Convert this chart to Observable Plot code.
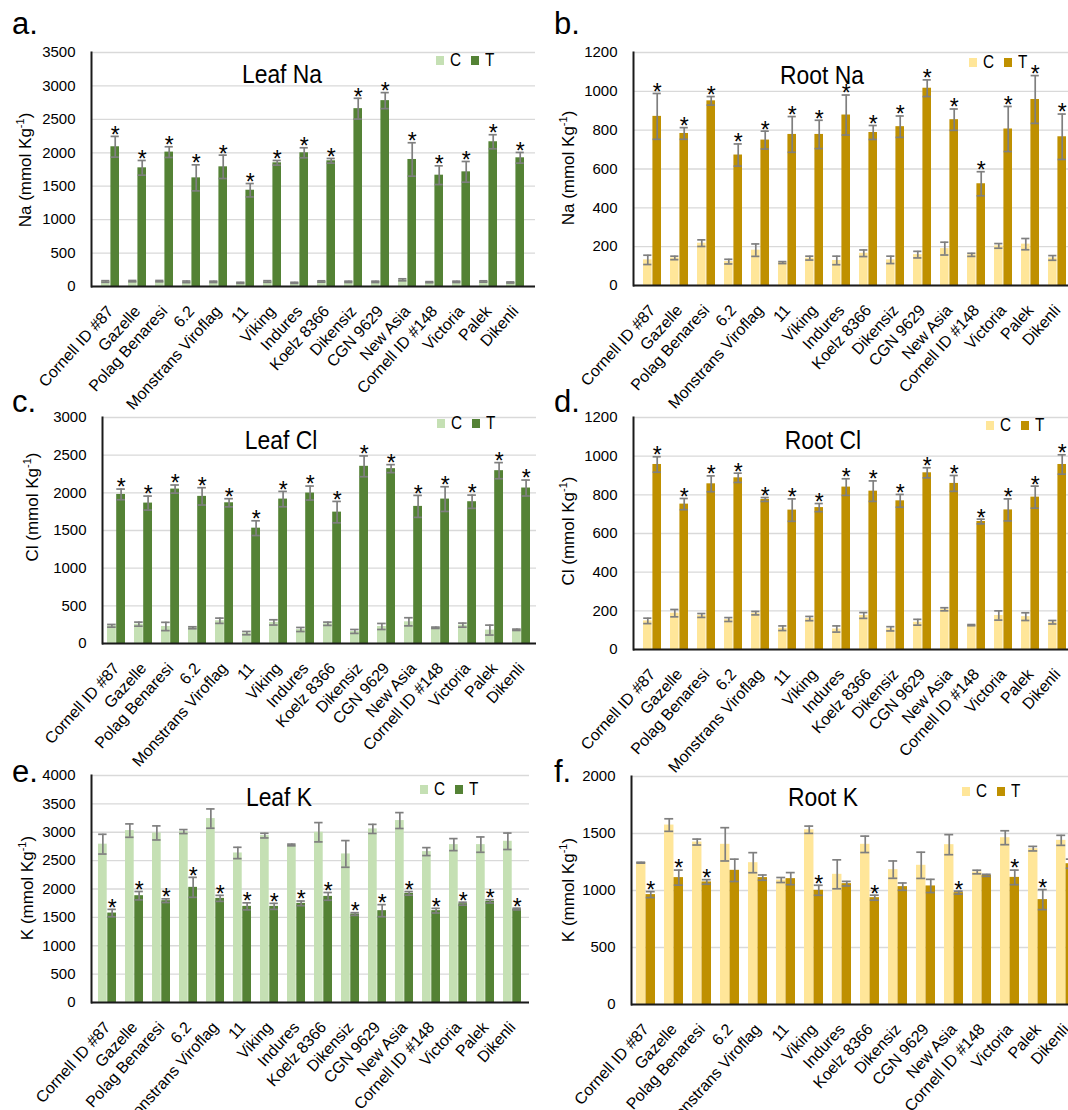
<!DOCTYPE html>
<html><head><meta charset="utf-8">
<script src="https://cdn.jsdelivr.net/npm/d3@7"></script>
<script src="https://cdn.jsdelivr.net/npm/@observablehq/plot@0.6"></script>
<style>
html,body{margin:0;padding:0;background:#fff;}
body{overflow:hidden;width:1068px;height:1110px;position:relative;font-family:"Liberation Sans",Arial,sans-serif;color:#000;}
.abs{position:absolute;white-space:nowrap;}
.holder{position:absolute;}
.holder svg{max-width:none !important;}
.letter{font-size:31px;line-height:32px;}
.title{font-size:26px;line-height:26px;transform:translate(-50%,-50%) scaleX(0.88);}
.ylab{font-size:17px;line-height:17px;transform:translate(-50%,-50%) rotate(-90deg);}
.ylab sup{font-size:11px;line-height:0;}
.legend{font-size:18px;line-height:18px;display:flex;align-items:center;transform:translateY(-50%);}
.legend .lt{display:inline-block;transform:scaleX(0.85);transform-origin:left center;}
.sw{display:inline-block;width:8px;height:9px;margin-right:6px;}
</style>
</head><body>
<script>
// ---------- DATA ----------
const genotypes = ["Cornell ID #87","Gazelle","Polag Benaresi","6.2","Monstrans Viroflag","11","Viking","Indures","Koelz 8366","Dikensiz","CGN 9629","New Asia","Cornell ID #148","Victoria","Palek","Dikenli"];
const treatments = ["C","T"];

const leafNaC    = [75,80,80,70,70,55,75,55,75,70,70,100,65,70,75,60];
const leafNaCErr = [12,10,10,12,10,8,12,8,10,10,10,15,8,10,10,8];
const leafNaT    = [2090,1775,2010,1625,1790,1440,1850,2000,1880,2660,2780,1900,1665,1715,2165,1925];
const leafNaTErr = [155,110,80,195,175,100,35,75,35,155,120,250,140,155,105,80];
const leafNaSig  = [1,1,1,1,1,1,1,1,1,1,1,1,1,1,1,1];
const leafNaTicks = [0,500,1000,1500,2000,2500,3000,3500];

const rootNaC    = [132,142,218,123,182,118,141,129,166,132,159,190,158,204,213,142];
const rootNaCErr = [24,9,17,12,32,5,10,22,17,19,17,33,8,12,29,12];
const rootNaT    = [871,783,951,672,749,778,778,878,788,818,1016,854,524,806,958,766];
const rootNaTErr = [118,30,22,57,46,92,73,103,36,55,43,55,62,116,123,117];
const rootNaSig  = [1,1,1,1,1,1,1,1,1,1,1,1,1,1,1,1];
const rootNaTicks = [0,200,400,600,800,1000,1200];

const leafClC    = [235,257,226,209,302,138,280,186,262,160,226,288,209,244,178,182];
const leafClCErr = [18,27,55,13,35,22,35,27,22,26,40,54,9,27,66,9];
const leafClT    = [1979,1864,2050,1953,1868,1531,1917,1997,1744,2352,2321,1820,1917,1882,2294,2064];
const leafClTErr = [71,93,54,115,54,98,102,93,142,138,53,146,164,88,107,106];
const leafClSig  = [1,1,1,1,1,1,1,1,1,1,1,1,1,1,1,1];
const leafClTicks = [0,500,1000,1500,2000,2500,3000];

const rootClC    = [148,188,176,155,188,110,160,106,176,107,141,208,126,176,170,141];
const rootClCErr = [14,19,10,10,9,12,11,16,15,11,15,8,3,24,20,9];
const rootClT    = [957,752,857,888,776,721,734,840,819,769,914,859,662,722,788,957];
const rootClTErr = [40,29,41,24,10,58,21,43,53,33,26,41,12,57,57,50];
const rootClSig  = [1,1,1,1,1,1,1,1,1,1,1,1,1,1,1,1];
const rootClTicks = [0,200,400,600,800,1000,1200];

const leafKC    = [2790,3029,2988,3012,3241,2635,2941,2776,3000,2618,3059,3206,2659,2782,2782,2841];
const leafKCErr = [174,118,124,35,170,100,41,15,170,235,80,140,70,106,135,145];
const leafKT    = [1576,1882,1794,2029,1835,1694,1694,1747,1870,1559,1618,1923,1618,1741,1782,1647];
const leafKTErr = [65,74,32,176,53,62,53,41,68,24,106,32,41,26,29,15];
const leafKSig  = [1,1,1,1,1,1,1,1,1,1,1,1,1,1,1,1];
const leafKTicks = [0,500,1000,1500,2000,2500,3000,3500,4000];

const rootKC    = [1244,1574,1425,1405,1244,1092,1533,1142,1405,1183,1221,1402,1162,1463,1367,1440];
const rootKCErr = [4,55,26,146,88,22,32,127,72,76,115,88,16,61,20,44];
const rootKT    = [964,1113,1075,1177,1113,1104,1002,1060,937,1034,1040,981,1133,1115,920,1235];
const rootKTErr = [26,66,20,98,23,53,44,20,22,32,58,13,9,64,88,40];
const rootKSig  = [1,1,1,0,0,0,1,0,1,0,0,1,0,1,1,0];
const rootKTicks = [0,500,1000,1500,2000];

// ---------- STYLE / LAYOUT ----------
const leafColors = ["#c5e0b4","#548235"];
const rootColors = ["#ffe699","#bf9000"];
const regular = "'Liberation Sans',Arial,sans-serif";

const panels = [
  {letter:"a.", title:"Leaf Na", ion:"Na", c:leafNaC, ce:leafNaCErr, t:leafNaT, te:leafNaTErr, sig:leafNaSig, ticks:leafNaTicks, colors:leafColors,
   left:0, top:0, width:540, axisX:91, right:535, topY:52, zeroY:286, yl:[25,170], tl:[282,74], lg:[436,60], lt:[12,8]},
  {letter:"b.", title:"Root Na", ion:"Na", c:rootNaC, ce:rootNaCErr, t:rootNaT, te:rootNaTErr, sig:rootNaSig, ticks:rootNaTicks, colors:rootColors,
   left:534, top:0, width:543, axisX:633, right:1077, topY:52, zeroY:285, yl:[568,168], tl:[822,75], lg:[969,62], lt:[554,8]},
  {letter:"c.", title:"Leaf Cl", ion:"Cl", c:leafClC, ce:leafClCErr, t:leafClT, te:leafClTErr, sig:leafClSig, ticks:leafClTicks, colors:leafColors,
   left:0, top:355, width:540, axisX:102, right:536, topY:417, zeroY:643, yl:[32,507], tl:[281,440], lg:[437,423], lt:[12,386]},
  {letter:"d.", title:"Root Cl", ion:"Cl", c:rootClC, ce:rootClCErr, t:rootClT, te:rootClTErr, sig:rootClSig, ticks:rootClTicks, colors:rootColors,
   left:534, top:355, width:543, axisX:633, right:1077, topY:417, zeroY:649, yl:[568,531], tl:[823,440], lg:[986,425], lt:[554,386]},
  {letter:"e.", title:"Leaf K", ion:"K", c:leafKC, ce:leafKCErr, t:leafKT, te:leafKTErr, sig:leafKSig, ticks:leafKTicks, colors:leafColors,
   left:0, top:715, width:540, axisX:91, right:529, topY:775, zeroY:1002, yl:[27,888], tl:[279,797], lg:[420,789], lt:[12,756]},
  {letter:"f.", title:"Root K", ion:"K", c:rootKC, ce:rootKCErr, t:rootKT, te:rootKTErr, sig:rootKSig, ticks:rootKTicks, colors:rootColors,
   left:534, top:715, width:547, axisX:631, right:1081, topY:776, zeroY:1004, yl:[568,890], tl:[823,797], lg:[962,791], lt:[554,756]}
];

const PI = 0.32, PO = 0.18;
const errColor = "#7f7f7f";

function addDiv(cls, x, y, html) {
  const d = document.createElement("div");
  d.className = "abs " + cls;
  d.style.left = x + "px";
  d.style.top = y + "px";
  d.innerHTML = html;
  document.body.appendChild(d);
  return d;
}

for (const p of panels) {
  const rows = genotypes.map((g, i) => ({g, c: p.c[i], ce: p.ce[i], t: p.t[i], te: p.te[i], sig: p.sig[i]}));
  const height = p.zeroY - p.top + 125;
  const marginLeft = p.axisX - p.left;
  const marginRight = p.width - (p.right - p.left);
  const marginTop = p.topY - p.top;
  const marginBottom = height - (p.zeroY - p.top);
  const step = (p.right - p.axisX) / (genotypes.length - PI + 2 * PO);
  const bw = step * (1 - PI);
  const capW = 9;
  const yMax = p.ticks[p.ticks.length - 1];

  const chart = Plot.plot({
    width: p.width, height, marginLeft, marginRight, marginTop, marginBottom,
    style: {background: "transparent", color: "#000", fontFamily: regular, fontSize: "15px", overflow: "visible"},
    x: {domain: genotypes, paddingInner: PI, paddingOuter: PO},
    y: {domain: [0, yMax]},
    marks: [
      Plot.gridY(p.ticks, {stroke: "#d9d9d9", strokeOpacity: 1, strokeWidth: 1.3}),
      Plot.barY(rows, {x: "g", y: "c", fill: p.colors[0], insetRight: bw / 2}),
      Plot.barY(rows, {x: "g", y: "t", fill: p.colors[1], insetLeft: bw / 2}),
      // error bars C
      Plot.ruleX(rows, {x: "g", y1: d => d.c - d.ce, y2: d => d.c + d.ce, dx: -bw / 4, stroke: errColor, strokeWidth: 1.7}),
      Plot.tickY(rows, {x: "g", y: d => d.c + d.ce, insetLeft: bw / 4 - capW / 2, insetRight: 3 * bw / 4 - capW / 2, stroke: errColor, strokeWidth: 1.7}),
      Plot.tickY(rows, {x: "g", y: d => Math.max(0, d.c - d.ce), insetLeft: bw / 4 - capW / 2, insetRight: 3 * bw / 4 - capW / 2, stroke: errColor, strokeWidth: 1.7}),
      // error bars T
      Plot.ruleX(rows, {x: "g", y1: d => d.t - d.te, y2: d => d.t + d.te, dx: bw / 4, stroke: errColor, strokeWidth: 1.7}),
      Plot.tickY(rows, {x: "g", y: d => d.t + d.te, insetLeft: 3 * bw / 4 - capW / 2, insetRight: bw / 4 - capW / 2, stroke: errColor, strokeWidth: 1.7}),
      Plot.tickY(rows, {x: "g", y: d => d.t - d.te, insetLeft: 3 * bw / 4 - capW / 2, insetRight: bw / 4 - capW / 2, stroke: errColor, strokeWidth: 1.7}),
      // significance
      Plot.text(rows.filter(d => d.sig), {x: "g", y: d => d.t + d.te, text: () => "*", dx: bw / 4, dy: -1, fontSize: 23, fill: "#000", fontFamily: regular}),
      // axes
      Plot.ruleY([0], {stroke: "#1a1a1a", strokeWidth: 2}),
      Plot.frame({anchor: "left", stroke: "#1a1a1a", strokeWidth: 2}),
      Plot.axisY(p.ticks, {tickSize: 0, tickPadding: 16, tickFormat: d => String(d), fontSize: 15, fontFamily: regular, label: null}),
      Plot.axisX({tickRotate: -48, tickSize: 0, tickPadding: 22, fontSize: 16, fontFamily: regular, label: null})
    ]
  });
  const holder = document.createElement("div");
  holder.className = "holder";
  holder.style.left = p.left + "px";
  holder.style.top = p.top + "px";
  holder.style.width = p.width + "px";
  holder.appendChild(chart);
  document.body.appendChild(holder);

  addDiv("letter", p.lt[0], p.lt[1], p.letter);
  addDiv("title", p.tl[0], p.tl[1], p.title);
  addDiv("ylab", p.yl[0], p.yl[1], p.ion + " (mmol Kg<sup>-1</sup>)");
  addDiv("legend", p.lg[0], p.lg[1],
    `<span class="sw" style="background:${p.colors[0]}"></span><span class="lt">${treatments[0]}</span>` +
    `<span class="sw" style="background:${p.colors[1]};margin-left:8px"></span><span class="lt">${treatments[1]}</span>`);
}
</script>
</body></html>
